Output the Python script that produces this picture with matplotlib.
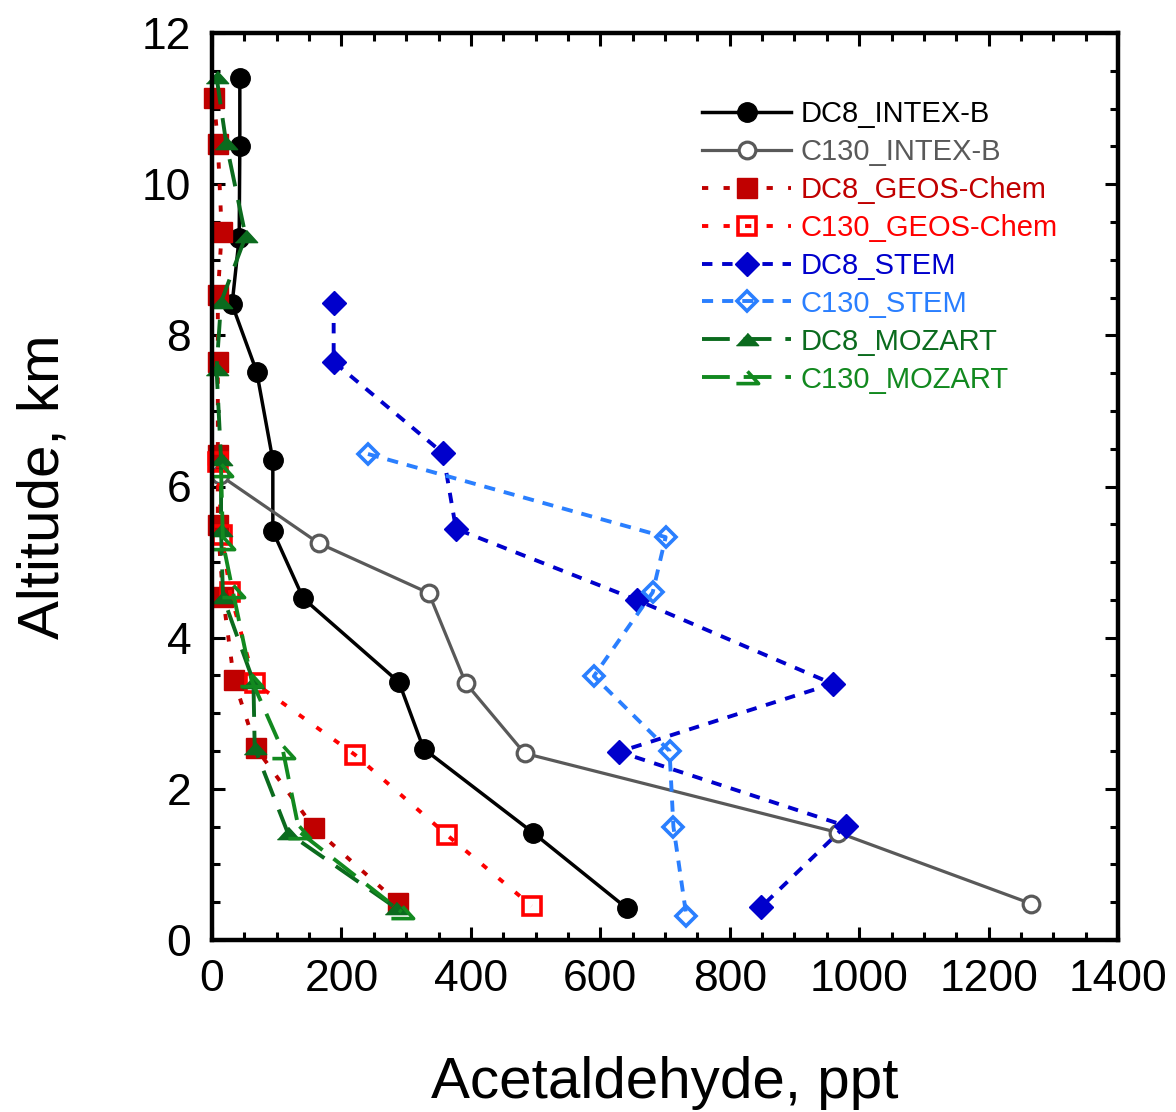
import matplotlib
matplotlib.use("Agg")
import matplotlib.pyplot as plt
from matplotlib.ticker import MultipleLocator

plt.rcParams['font.family'] = ['Liberation Sans', 'DejaVu Sans']
plt.rcParams['lines.scale_dashes'] = False

# acetaldehyde (ppt) vs altitude (km)
dc8_intex_x = [43, 43, 42, 31, 69, 94, 94, 141, 289, 327, 496, 641]
dc8_intex_y = [11.41, 10.51, 9.29, 8.41, 7.52, 6.35, 5.41, 4.52, 3.41, 2.53, 1.42, 0.42]

c130_intex_x = [12, 165, 335, 392, 483, 968, 1266]
c130_intex_y = [6.15, 5.25, 4.59, 3.40, 2.47, 1.42, 0.48]

dc8_geos_x = [3, 9, 15, 9, 9, 9, 9, 17, 34, 68, 158, 288]
dc8_geos_y = [11.14, 10.53, 9.37, 8.53, 7.65, 6.42, 5.49, 4.54, 3.44, 2.54, 1.48, 0.49]

c130_geos_x = [9, 15, 28, 66, 221, 363, 494]
c130_geos_y = [6.33, 5.36, 4.60, 3.40, 2.45, 1.39, 0.45]

dc8_stem_x = [188, 188, 357, 377, 656, 959, 629, 979, 849]
dc8_stem_y = [8.43, 7.65, 6.44, 5.44, 4.50, 3.39, 2.49, 1.51, 0.44]

c130_stem_x = [241, 701, 681, 590, 707, 713, 733]
c130_stem_y = [6.43, 5.33, 4.60, 3.49, 2.50, 1.50, 0.32]

dc8_moz_x = [7, 22, 52, 14, 7, 14, 14, 17, 64, 66, 117, 285]
dc8_moz_y = [11.42, 10.54, 9.31, 8.44, 7.56, 6.36, 5.42, 4.54, 3.42, 2.54, 1.42, 0.42]

c130_moz_x = [14, 17, 32, 61, 110, 135, 293]
c130_moz_y = [6.22, 5.25, 4.62, 3.44, 2.49, 1.43, 0.37]

fig = plt.figure(figsize=(11.76, 11.12), dpi=100)
ax = fig.add_axes([212/1176, 1 - 940/1112, 906/1176, 907/1112])

tri = [(-1, -0.55), (1, -0.55), (0, 0.55)]

ax.plot(dc8_intex_x, dc8_intex_y, '-', color='black', lw=2.5, marker='o', ms=14,
        label='DC8_INTEX-B')
ax.plot(c130_intex_x, c130_intex_y, '-', color='#595959', lw=2.3, marker='o', ms=12,
        mfc='white', mew=2.3, label='C130_INTEX-B')
ax.plot(dc8_geos_x, dc8_geos_y, color='#C00000', lw=2.8, ls=(0, (4.5, 11)), marker='s',
        ms=14, label='DC8_GEOS-Chem')
ax.plot(c130_geos_x, c130_geos_y, color='#FF0000', lw=2.8, ls=(0, (4.5, 11)), marker='s',
        ms=12.5, mfc='none', mew=2.6, label='C130_GEOS-Chem')
ax.plot(dc8_stem_x, dc8_stem_y, color='#0000CC', lw=2.8, ls=(0, (7.5, 7)), marker='D',
        ms=12, label='DC8_STEM')
ax.plot(c130_stem_x, c130_stem_y, color='#2A7FFF', lw=2.8, ls=(0, (8, 6.5)), marker='D',
        ms=10.5, mfc='none', mew=2.6, label='C130_STEM')
ax.plot(dc8_moz_x, dc8_moz_y, color='#0B6B1E', lw=2.8, ls=(0, (20, 10)), marker=tri,
        ms=16, label='DC8_MOZART')
ax.plot(c130_moz_x, c130_moz_y, color='#12891F', lw=2.8, ls=(0, (20, 10)), marker=tri,
        ms=16, mfc='none', mew=2.6, label='C130_MOZART')
for ln in ax.get_lines():
    ln.set_clip_on(False)

ax.set_xlim(0, 1400)
ax.set_ylim(0, 12)
ax.xaxis.set_major_locator(MultipleLocator(200))
ax.xaxis.set_minor_locator(MultipleLocator(50))
ax.yaxis.set_major_locator(MultipleLocator(2))
ax.yaxis.set_minor_locator(MultipleLocator(0.5))
ax.tick_params(which='both', direction='in', top=True, right=True, width=2.2)
ax.tick_params(which='major', length=9.5, labelsize=32)
ax.tick_params(axis='x', which='major', pad=14)
ax.tick_params(axis='y', which='major', pad=15)
ax.tick_params(which='minor', length=6)
for sp in ax.spines.values():
    sp.set_linewidth(3.2)

ax.set_xlabel('Acetaldehyde, ppt', fontsize=42, labelpad=40)
ax.set_ylabel('Altitude, km', fontsize=42, labelpad=51)

leg = ax.legend(loc='upper left', bbox_to_anchor=(0.541, 0.926), frameon=False,
                fontsize=21, handlelength=3.05, handletextpad=0.33, labelspacing=0.34,
                borderpad=0, borderaxespad=0, numpoints=1)
for txt, ln in zip(leg.get_texts(), leg.get_lines()):
    txt.set_color(ln.get_color())

fig.savefig('out.png', dpi=100)
